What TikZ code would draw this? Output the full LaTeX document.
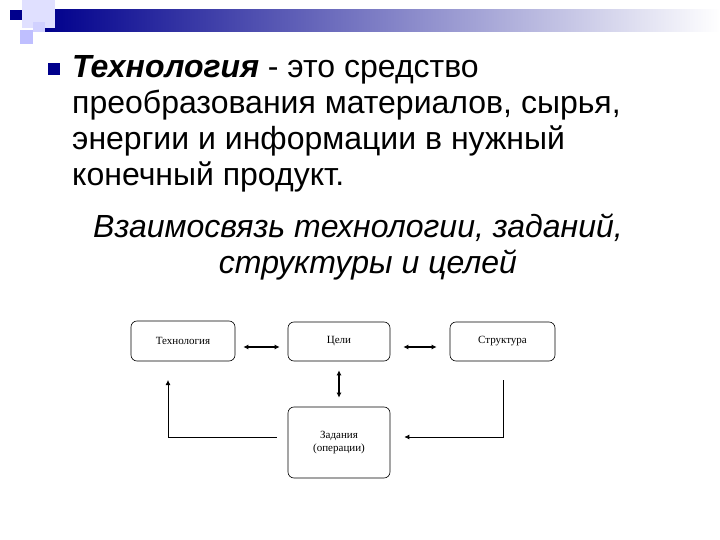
\documentclass[tikz,border=0pt]{standalone}
\usepackage{fontspec}
\setmainfont{Liberation Sans}
\newfontfamily\serifbox{Liberation Serif}
\begin{document}
\begin{tikzpicture}[x=1pt,y=-1pt,
 box/.style={draw,rounded corners=6pt,line width=0.6pt,font=\serifbox\fontsize{11}{13}\selectfont,align=center},
 arr/.style={line width=1.3pt,{Latex[length=5pt,width=5pt]}-{Latex[length=5pt,width=5pt]}},
 txt/.style={anchor=base west,font=\fontsize{32}{36}\selectfont,inner sep=0}]
\useasboundingbox (0,0) rectangle (720,540);
\usetikzlibrary{arrows.meta}
% decoration
\shade[left color=blue!55!black,right color=white] (45,10) rectangle (720,32);
\fill[blue!12] (22,0) rectangle (55,28);
\fill[blue!25] (20,30) rectangle (33,44);
\fill[blue!18] (33,22) rectangle (45,32);
\fill[blue!55!black] (10,10) rectangle (22,20);
% bullet
\fill[blue!55!black] (48,63) rectangle (60,75);
\node[txt] (l1) at (72,78) {\textbf{\textit{Технология}} - это средство};
\node[txt] (l2) at (72,114) {преобразования материалов, сырья,};
\node[txt] (l3) at (72,150) {энергии и информации в нужный};
\node[txt] (l4) at (72,186) {конечный продукт.};
\node[txt,anchor=base,font=\itshape\fontsize{32}{36}\selectfont] (t1) at (358,237) {Взаимосвязь технологии, заданий,};
\node[txt,anchor=base,font=\itshape\fontsize{32}{36}\selectfont] (t2) at (368,273) {структуры и целей};
% boxes
\node[box,minimum width=104pt,minimum height=40pt] (tech) at (183,341) {Технология};
\node[box,minimum width=102pt,minimum height=39pt] (goal) at (339,341.5) {Цели};
\node[box,minimum width=105pt,minimum height=39pt] (str) at (502.5,341.5) {Структура};
\node[box,minimum width=102pt,minimum height=71pt] (task) at (339,442.5) {Задания\\(операции)};
\draw[arr] ([xshift=8pt]tech.east |- 0,347) -- ([xshift=-8pt]goal.west |- 0,347);
\draw[arr] ([xshift=13pt]goal.east |- 0,347) -- ([xshift=-13pt]str.west |- 0,347);
\draw[arr] ([yshift=-9pt]goal.south) -- ([yshift=9pt]task.north);
\coordinate (lc) at (168,437);
\coordinate (rc) at (503,437);
\draw[line width=0.8pt,-{Latex[length=5pt,width=5pt]}] ([xshift=-11pt]task.west |- lc) -- (lc) -- (lc |- 0,380);
\draw[line width=0.8pt,{Latex[length=5pt,width=5pt]}-] ([xshift=14pt]task.east |- rc) -- (rc) -- (rc |- 0,380);
\end{tikzpicture}
\end{document}
